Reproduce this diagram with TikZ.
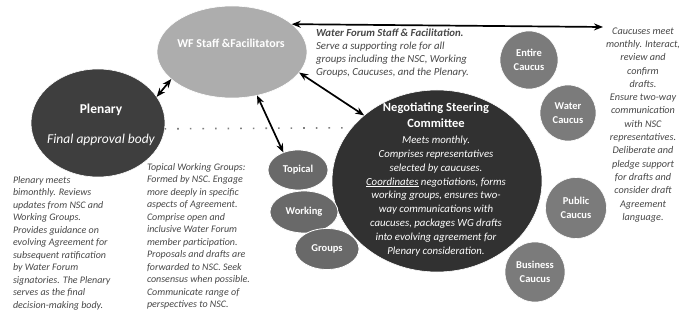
\documentclass[tikz,border=0pt]{standalone}
\usepackage{fontspec}
\setmainfont{Carlito}
\usetikzlibrary{arrows.meta, shapes.geometric}

\definecolor{wfgrey}{HTML}{ADADAD}
\definecolor{plengrey}{HTML}{3E3E3E}
\definecolor{nscgrey}{HTML}{313131}
\definecolor{groupgrey}{HTML}{696969}
\definecolor{caucusgrey}{HTML}{7B7B7B}
\definecolor{notegrey}{HTML}{474747}

\begin{document}
\begin{tikzpicture}[x=1pt, y=-1pt,
                >= {Stealth[length=9pt, width=7pt]},
every node/.style = {inner sep=0pt, outer sep=0pt},
       disc/.style = {ellipse, fill=#1, draw=white, line width=0.6pt},
     caucus/.style = {circle, fill=caucusgrey, draw=white, line width=0.6pt,
                       align=center, text=white,
                       font=\fontsize{10.5}{14.5}\selectfont\bfseries},
      group/.style = {ellipse, fill=groupgrey, draw=white, line width=0.8pt,
                       minimum width=64pt, minimum height=41pt, text=white,
                       font=\fontsize{10.5}{12}\selectfont\bfseries},
     intext/.style = {align=center, text=white},
       note/.style = {align=left, text=notegrey,
                       font=\fontsize{10}{12.5}\selectfont\itshape},
       link/.style = {<->, line width=1.7pt},
    dotlink/.style = {line width=1.6pt, gray, dash pattern=on 1.6pt off 11pt}
                        ]
\useasboundingbox (0,0) rectangle (682,320);
\clip (0,0) rectangle (682,320);

\node (wf)[disc=wfgrey, minimum width=150pt, minimum height=92pt] at (232,52) {};
\node (wflabel)[intext, font=\fontsize{12}{14}\selectfont\bfseries] at (231,43) {WF Staff \&Facilitators};

\node (plenary)[disc=plengrey, minimum width=134pt, minimum height=108pt] at (98,123) {};
\node (plenlabel)[intext, font=\fontsize{13.5}{15}\selectfont] at (101,125)
     {{\fontsize{13.5}{15}\selectfont\bfseries Plenary}\\[15pt]{\itshape Final approval body}};

\node (nsc)[disc=nscgrey, minimum width=210pt, minimum height=182pt] at (437,181) {};
\node (nsctitle)[intext, font=\fontsize{12.5}{16}\selectfont\bfseries] at (436,115)
     {Negotiating Steering\\Committee};
\node (nscnote)[intext, font=\fontsize{10.8}{13.8}\selectfont\itshape] at (436,196)
     {Meets monthly.\\
      Comprises representatives\\
      selected by caucuses.\\
      \underline{Coordinates} negotiations, forms\\
      working groups, ensures two-\\
      way communications with\\
      caucuses, packages WG drafts\\
      into evolving agreement for\\
      Plenary consideration.};

\node (topical)[group, minimum width=60pt, minimum height=40pt] at (298,170) {Topical};
\node (working)[group, minimum width=68pt, minimum height=42pt] at (304,212) {Working};
\node (groups)[group] at (327,249) {Groups};

\node (entire)[caucus, minimum size=58pt] at (529,60) {Entire\\Caucus};
\node (water)[caucus, minimum size=56pt] at (568,113) {Water\\Caucus};
\node (public)[caucus, minimum size=61pt] at (576,208) {Public\\Caucus};
\node (business)[caucus, minimum size=60pt] at (535,272) {Business\\Caucus};

\node (wfnote)[note, font=\fontsize{10.8}{13}\selectfont\itshape, anchor=north west] at (316,28.5)
     {\textbf{Water Forum Staff \& Facilitation.}\\
      Serve a supporting role for all\\
      groups including the NSC, Working\\
      Groups, Caucuses, and the Plenary.};

\node (plennote)[note, anchor=north west] at (13,176.5)
     {Plenary meets\\
      bimonthly. Reviews\\
      updates from NSC and\\
      Working Groups.\\
      Provides guidance on\\
      evolving Agreement for\\
      subsequent ratification\\
      by Water Forum\\
      signatories. The Plenary\\
      serves as the final\\
      decision-making body.};

\node (topicalnote)[note, anchor=north west] at (147,163.5)
     {Topical Working Groups:\\
      Formed by NSC. Engage\\
      more deeply in specific\\
      aspects of Agreement.\\
      Comprise open and\\
      inclusive Water Forum\\
      member participation.\\
      Proposals and drafts are\\
      forwarded to NSC. Seek\\
      consensus when possible.\\
      Communicate range of\\
      perspectives to NSC.};

\node (caucusnote)[note, align=center, font=\fontsize{10.2}{13.3}\selectfont\itshape, anchor=north] at (643,27.5)
     {Caucuses meet\\
      monthly. Interact,\\
      review and\\
      confirm\\
      drafts.\\
      Ensure two-way\\
      communication\\
      with NSC\\
      representatives.\\
      Deliberate and\\
      pledge support\\
      for drafts and\\
      consider draft\\
      Agreement\\
      language.};

\coordinate (caucusend) at (603,27);
\draw[link] (wf.25) to (caucusend);
\draw[link] (plenary.24) to (wf.204);
\draw[link] (wf.300) to (topical.130);
\draw[link] (wf.343) to (nsc.138);
\draw[dotlink] (plenary.355) to (nsc.148);
\end{tikzpicture}
\end{document}
